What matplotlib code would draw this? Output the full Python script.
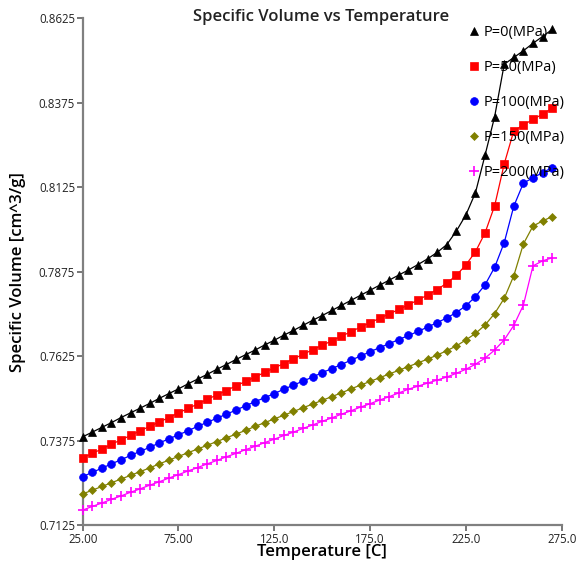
import matplotlib
matplotlib.use("Agg")
import matplotlib.pyplot as plt
from matplotlib.lines import Line2D

plt.rcParams['font.family'] = ['Open Sans', 'DejaVu Sans']

temperature = list(range(25, 275, 5))

v_p0 = [0.7386, 0.7400, 0.7414, 0.7428, 0.7443, 0.7457, 0.7471, 0.7485, 0.7500, 0.7514,
        0.7528, 0.7543, 0.7557, 0.7571, 0.7586, 0.7600, 0.7615, 0.7629, 0.7643, 0.7658,
        0.7672, 0.7687, 0.7701, 0.7716, 0.7731, 0.7745, 0.7760, 0.7775, 0.7790, 0.7805,
        0.7820, 0.7835, 0.7850, 0.7865, 0.7880, 0.7896, 0.7913, 0.7932, 0.7955, 0.7995,
        0.8043, 0.8109, 0.8220, 0.8334, 0.8489, 0.8509, 0.8529, 0.8551, 0.8571, 0.8592]

v_p50 = [0.7324, 0.7337, 0.7350, 0.7364, 0.7377, 0.7390, 0.7404, 0.7417, 0.7430, 0.7443,
         0.7457, 0.7470, 0.7483, 0.7497, 0.7510, 0.7523, 0.7537, 0.7550, 0.7563, 0.7577,
         0.7590, 0.7603, 0.7617, 0.7630, 0.7644, 0.7657, 0.7670, 0.7684, 0.7697, 0.7711,
         0.7724, 0.7737, 0.7750, 0.7763, 0.7777, 0.7791, 0.7806, 0.7822, 0.7841, 0.7864,
         0.7895, 0.7934, 0.7990, 0.8070, 0.8194, 0.8292, 0.8309, 0.8326, 0.8341, 0.8359]

v_p100 = [0.7268, 0.7281, 0.7293, 0.7306, 0.7318, 0.7331, 0.7343, 0.7355, 0.7368, 0.7380,
          0.7392, 0.7404, 0.7417, 0.7429, 0.7441, 0.7453, 0.7465, 0.7478, 0.7490, 0.7502,
          0.7514, 0.7527, 0.7539, 0.7551, 0.7563, 0.7576, 0.7588, 0.7600, 0.7613, 0.7625,
          0.7638, 0.7650, 0.7662, 0.7674, 0.7686, 0.7698, 0.7711, 0.7724, 0.7738, 0.7754,
          0.7774, 0.7801, 0.7836, 0.7888, 0.7961, 0.8069, 0.8137, 0.8153, 0.8168, 0.8183]

v_p150 = [0.7217, 0.7228, 0.7239, 0.7250, 0.7261, 0.7272, 0.7283, 0.7294, 0.7306, 0.7317,
          0.7328, 0.7339, 0.7350, 0.7361, 0.7372, 0.7383, 0.7394, 0.7405, 0.7417, 0.7428,
          0.7439, 0.7450, 0.7461, 0.7472, 0.7483, 0.7494, 0.7505, 0.7516, 0.7528, 0.7539,
          0.7550, 0.7561, 0.7572, 0.7583, 0.7594, 0.7605, 0.7616, 0.7628, 0.7641, 0.7655,
          0.7673, 0.7692, 0.7717, 0.7751, 0.7796, 0.7863, 0.7957, 0.8010, 0.8025, 0.8038]

v_p200 = [0.7169, 0.7180, 0.7190, 0.7201, 0.7211, 0.7222, 0.7232, 0.7243, 0.7253, 0.7264,
          0.7274, 0.7285, 0.7295, 0.7306, 0.7316, 0.7327, 0.7337, 0.7348, 0.7358, 0.7369,
          0.7379, 0.7390, 0.7400, 0.7411, 0.7421, 0.7432, 0.7442, 0.7453, 0.7463, 0.7474,
          0.7484, 0.7495, 0.7505, 0.7516, 0.7527, 0.7536, 0.7545, 0.7554, 0.7563, 0.7574,
          0.7586, 0.7601, 0.7619, 0.7643, 0.7673, 0.7716, 0.7776, 0.7892, 0.7907, 0.7916]

series_labels = ['P=0(MPa)', 'P=50(MPa)', 'P=100(MPa)', 'P=150(MPa)', 'P=200(MPa)']
series_values = [v_p0, v_p50, v_p100, v_p150, v_p200]
colors = ['#000000', '#ff0000', '#0000ff', '#808000', '#ff00ff']
markers = ['^', 's', 'o', 'D', '+']
marker_sizes = [6.0, 5.4, 5.6, 4.5, 7.0]

x_ticks = [25, 75, 125, 175, 225, 275]
x_tick_labels = ['25.00', '75.00', '125.0', '175.0', '225.0', '275.0']
y_ticks = [0.7125, 0.7375, 0.7625, 0.7875, 0.8125, 0.8375, 0.8625]
y_tick_labels = ['0.7125', '0.7375', '0.7625', '0.7875', '0.8125', '0.8375', '0.8625']

fig = plt.figure(figsize=(5.77, 5.65), dpi=100)
ax = fig.add_axes([0.1433, 0.0708, 0.8302, 0.8968])

for vals, c, m, ms in zip(series_values, colors, markers, marker_sizes):
    ax.plot(temperature, vals, color=c, linewidth=0.9, marker=m, markersize=ms,
            markeredgewidth=1.2 if m == '+' else 0.5, markerfacecolor=c,
            markeredgecolor=c, clip_on=False, zorder=3)

ax.set_xlim(25, 275)
ax.set_ylim(0.7125, 0.8625)
ax.set_xticks(x_ticks)
ax.set_xticklabels(x_tick_labels)
ax.set_yticks(y_ticks)
ax.set_yticklabels(y_tick_labels)

for side in ['top', 'right']:
    ax.spines[side].set_visible(False)
for side in ['left', 'bottom']:
    ax.spines[side].set_color('#808080')
    ax.spines[side].set_linewidth(1.6)

ax.tick_params(axis='both', direction='out', length=4, width=1.2, color='#606060',
               labelsize=8.3, labelcolor='#222222', pad=1.5)

ax.set_xlabel('Temperature [C]', fontsize=12, fontweight='semibold', labelpad=-1)
ax.set_ylabel('Specific Volume [cm^3/g]', fontsize=12, fontweight='semibold', labelpad=9)

fig.text(0.557, 0.970, 'Specific Volume vs Temperature', ha='center', va='center',
         fontsize=12, fontweight='semibold', color='#222222')

handles = [Line2D([], [], linestyle='none', marker=m, color=c, markersize=ms,
                  markeredgewidth=1.2 if m == '+' else 0.5)
           for c, m, ms in zip(colors, markers, marker_sizes)]
ax.legend(handles, series_labels, loc='upper left', bbox_to_anchor=(0.798, 0.968),
          bbox_transform=fig.transFigure, frameon=False, fontsize=10.5,
          handlelength=0.8, handletextpad=0.3, labelspacing=1.36, borderpad=0)

fig.savefig('out.png', dpi=100)
